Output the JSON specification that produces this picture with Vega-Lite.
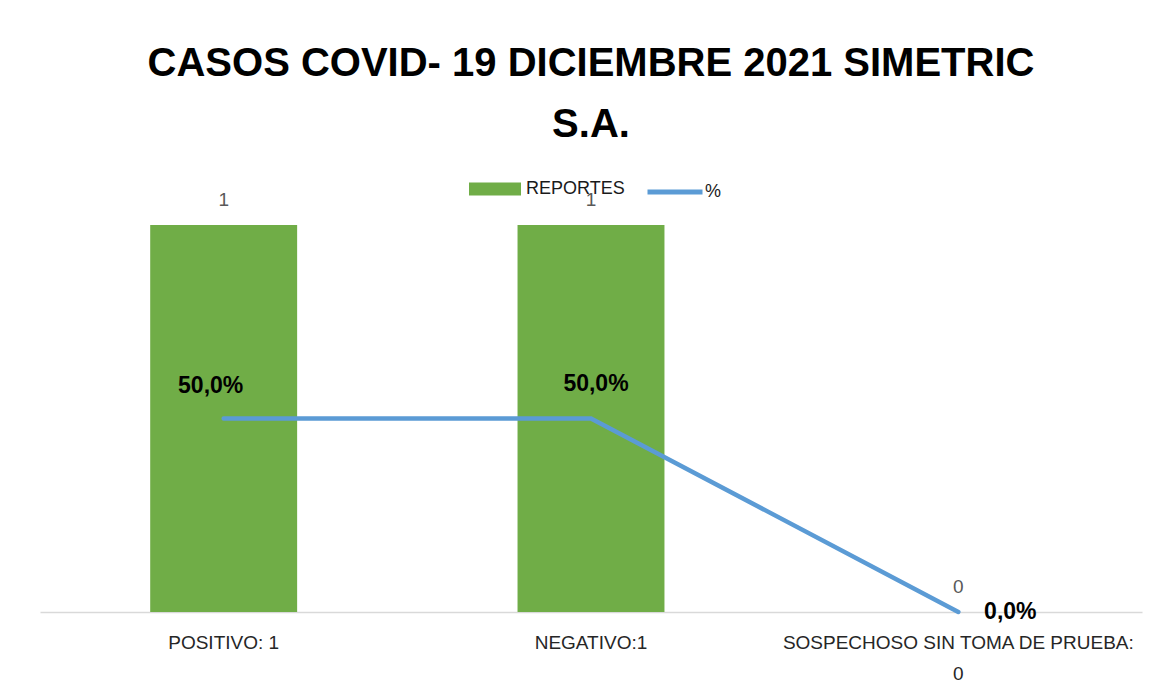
{
  "$schema": "https://vega.github.io/schema/vega-lite/v6.json",
  "width": 1102,
  "height": 387,
  "autosize": "none",
  "padding": {"left": 40, "top": 225, "right": 22, "bottom": 84},
  "background": "white",
  "config": {
    "view": {"stroke": null},
    "font": "Liberation Sans",
    "locale": {"number": {"decimal": ",", "thousands": ".", "grouping": [3], "currency": ["$", ""]}}
  },
  "title": {
    "text": ["CASOS COVID- 19 DICIEMBRE 2021 SIMETRIC", "S.A."],
    "font": "Liberation Sans",
    "fontSize": 40,
    "fontWeight": "bold",
    "color": "#000000",
    "lineHeight": 61,
    "anchor": "middle",
    "offset": 17
  },
  "data": {
    "values": [
      {"cat": "POSITIVO: 1", "reportes": 1, "pct": 0.5},
      {"cat": "NEGATIVO:1", "reportes": 1, "pct": 0.5},
      {"cat": "SOSPECHOSO SIN TOMA DE PRUEBA: 0", "reportes": 0, "pct": 0}
    ]
  },
  "encoding": {
    "x": {
      "field": "cat",
      "type": "nominal",
      "sort": null,
      "scale": {"paddingInner": 0.6, "paddingOuter": 0.3},
      "axis": {
        "title": null,
        "labelAngle": 0,
        "ticks": false,
        "domainColor": "#D9D9D9",
        "domainWidth": 1.5,
        "labelFontSize": 19,
        "labelColor": "#262626",
        "labelPadding": 21,
        "labelLineHeight": 31,
        "labelBaseline": "top",
        "labelLimit": 600,
        "labelExpr": "datum.value == 'SOSPECHOSO SIN TOMA DE PRUEBA: 0' ? ['SOSPECHOSO SIN TOMA DE PRUEBA:', '0'] : datum.value"
      }
    }
  },
  "layer": [
    {
      "mark": {"type": "bar"},
      "encoding": {
        "y": {"field": "reportes", "type": "quantitative", "scale": {"domain": [0, 1]}, "axis": null},
        "fill": {
          "datum": "REPORTES",
          "type": "nominal",
          "scale": {"domain": ["REPORTES"], "range": ["#70AD47"]},
          "legend": {
            "title": null,
            "orient": "none",
            "legendX": 429,
            "legendY": -62,
            "padding": 0,
            "symbolType": "M-1,-0.25H1V0.25H-1Z",
            "symbolSize": 2704,
            "symbolStrokeWidth": 0,
            "labelOffset": 5,
            "labelFontSize": 18,
            "labelColor": "#1a1a1a"
          }
        }
      }
    },
    {
      "mark": {"type": "text", "dy": -25, "fontSize": 19, "color": "#595959"},
      "encoding": {
        "y": {"field": "reportes", "type": "quantitative", "scale": {"domain": [0, 1]}},
        "text": {"field": "reportes", "type": "quantitative"}
      }
    },
    {
      "mark": {"type": "line", "strokeWidth": 4.5, "strokeCap": "round"},
      "encoding": {
        "y": {"field": "pct", "type": "quantitative", "scale": {"domain": [0, 1]}},
        "stroke": {
          "datum": "%",
          "type": "nominal",
          "scale": {"domain": ["%"], "range": ["#5B9BD5"]},
          "legend": {
            "title": null,
            "orient": "none",
            "legendX": 605,
            "legendY": -63,
            "padding": 0,
            "symbolType": "stroke",
            "symbolSize": 3025,
            "symbolStrokeWidth": 5,
            "labelOffset": 0,
            "labelFontSize": 18,
            "labelColor": "#1a1a1a"
          }
        }
      }
    },
    {
      "transform": [{"filter": "datum.cat == 'POSITIVO: 1'"}],
      "mark": {"type": "text", "dx": -13, "dy": -33, "fontSize": 23, "fontWeight": "bold", "color": "#000000"},
      "encoding": {
        "y": {"field": "pct", "type": "quantitative", "scale": {"domain": [0, 1]}},
        "text": {"field": "pct", "type": "quantitative", "format": ".1%"}
      }
    },
    {
      "transform": [{"filter": "datum.cat == 'NEGATIVO:1'"}],
      "mark": {"type": "text", "dx": 5, "dy": -35, "fontSize": 23, "fontWeight": "bold", "color": "#000000"},
      "encoding": {
        "y": {"field": "pct", "type": "quantitative", "scale": {"domain": [0, 1]}},
        "text": {"field": "pct", "type": "quantitative", "format": ".1%"}
      }
    },
    {
      "transform": [{"filter": "datum.cat == 'SOSPECHOSO SIN TOMA DE PRUEBA: 0'"}],
      "mark": {"type": "text", "dx": 52, "dy": 0, "fontSize": 23, "fontWeight": "bold", "color": "#000000"},
      "encoding": {
        "y": {"field": "pct", "type": "quantitative", "scale": {"domain": [0, 1]}},
        "text": {"field": "pct", "type": "quantitative", "format": ".1%"}
      }
    }
  ]
}
